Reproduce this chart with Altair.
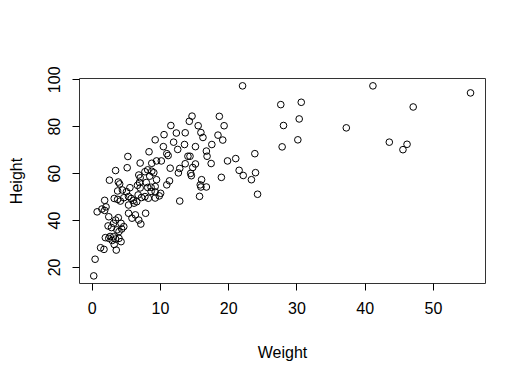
import altair as alt
import pandas as pd

weight = [22.1, 41.2, 55.5, 47.1, 37.3, 43.6, 46.2, 45.6, 27.7, 30.7,
          30.4, 28.1, 30.2, 27.9, 23.9, 21.1, 21.6, 22.2, 24.0, 23.4,
          24.3, 14.7, 14.3, 18.7, 15.6, 19.4, 11.6, 12.4, 13.7, 16.0,
          16.3, 18.5, 19.2, 10.6, 12.0, 13.6, 17.6, 15.2, 10.5, 12.6,
          16.8, 8.4, 11.0, 11.2, 14.1, 14.4, 16.9, 19.9, 17.5, 13.7,
          15.2, 14.8, 12.9, 11.5, 12.7, 14.5, 14.6, 19.0, 16.1, 15.9,
          16.0, 16.8, 15.8, 12.9, 11.4, 11.0, 9.3, 7.1, 8.8, 10.2,
          8.2, 7.8, 8.8, 9.1, 6.9, 7.1, 8.5, 9.5, 7.0, 8.0,
          8.2, 8.7, 9.3, 6.7, 7.1, 8.7, 9.3, 9.9, 10.1, 6.8,
          7.3, 7.8, 8.3, 9.3, 5.3, 9.5, 5.2, 3.5, 2.6, 3.9,
          4.1, 5.6, 3.8, 4.5, 5.1, 1.9, 3.3, 3.8, 4.2, 4.7,
          5.4, 5.8, 6.1, 5.4, 6.2, 6.6, 0.8, 1.5, 1.9, 2.1,
          6.9, 7.2, 5.4, 5.9, 6.4, 7.9, 2.5, 3.2, 3.5, 3.9,
          4.3, 4.7, 4.4, 2.4, 2.9, 3.7, 4.0, 2.0, 2.5, 2.7,
          3.2, 3.5, 3.0, 4.0, 4.3, 3.3, 3.6, 1.3, 1.8, 0.5,
          0.3]
height = [97.2, 97.2, 94.2, 88.2, 79.3, 73.2, 72.3, 70.0, 89.2, 90.2,
          83.1, 80.3, 74.2, 71.2, 68.3, 66.2, 61.2, 59.0, 60.2, 57.2,
          51.0, 84.3, 82.1, 84.2, 80.2, 80.2, 80.3, 77.1, 77.2, 77.3,
          75.2, 76.2, 74.1, 76.4, 73.2, 72.2, 72.2, 71.3, 71.3, 70.1,
          69.4, 69.1, 68.3, 67.5, 67.2, 67.2, 67.2, 65.2, 64.1, 64.0,
          63.9, 62.4, 62.0, 62.1, 60.1, 59.9, 58.9, 58.2, 57.2, 55.0,
          54.1, 54.1, 50.1, 48.1, 56.7, 55.0, 74.2, 64.3, 64.2, 65.2,
          61.4, 60.6, 60.8, 60.2, 59.2, 58.0, 58.7, 57.2, 56.0, 56.0,
          53.9, 54.0, 54.3, 54.8, 53.7, 52.2, 52.0, 50.3, 51.4, 50.7,
          49.6, 50.0, 49.3, 49.4, 67.1, 65.2, 62.3, 61.1, 57.0, 56.2,
          55.4, 53.8, 52.4, 52.8, 52.1, 48.4, 49.2, 48.8, 48.1, 49.5,
          50.0, 49.2, 48.4, 46.4, 47.2, 47.8, 43.5, 44.7, 44.1, 45.6,
          40.0, 38.3, 42.9, 40.8, 42.2, 42.9, 41.4, 38.6, 40.0, 41.0,
          38.6, 37.2, 36.2, 37.5, 36.8, 35.8, 35.1, 32.5, 32.2, 33.0,
          32.9, 31.9, 31.3, 32.2, 30.8, 29.6, 27.2, 28.2, 27.5, 23.3,
          16.2]

x_ticks = [0, 10, 20, 30, 40, 50]
y_ticks = [20, 40, 60, 80, 100]

df = pd.DataFrame({"Weight": weight, "Height": height})

FONT = "Liberation Sans"

chart = alt.Chart(df).mark_point(
    shape="circle", filled=False, stroke="black", strokeWidth=1, size=44, opacity=1
).encode(
    x=alt.X("Weight:Q",
            scale=alt.Scale(domain=[-1.86, 57.62], nice=False, zero=False),
            axis=alt.Axis(values=x_ticks, title="Weight", grid=False, domain=False,
                          tickSize=7, tickColor="black", tickWidth=1,
                          labelFont=FONT, labelFontSize=16, labelColor="black",
                          labelPadding=10, labelFlush=False,
                          titleFont=FONT, titleFontSize=16, titleFontWeight="normal",
                          titleColor="black", titleY=69, titleBaseline="middle")),
    y=alt.Y("Height:Q",
            scale=alt.Scale(domain=[13.17, 100.55], nice=False, zero=False),
            axis=alt.Axis(values=y_ticks, title="Height", grid=False, domain=False,
                          tickSize=7, tickColor="black", tickWidth=1,
                          labelFont=FONT, labelFontSize=16, labelColor="black",
                          labelAngle=270, labelAlign="center", labelBaseline="alphabetic",
                          labelPadding=13, labelFlush=False,
                          titleFont=FONT, titleFontSize=16, titleFontWeight="normal",
                          titleColor="black", titleAngle=270, titleX=-63,
                          titleBaseline="middle")),
).properties(
    width=406, height=205,
    background="white",
    autosize=alt.AutoSizeParams(type="none"),
    padding={"left": 71, "top": 70, "right": 30, "bottom": 80},
).configure_view(
    stroke="#333333", strokeWidth=1
)

chart.save("out.html", embed_options={"renderer": "svg", "actions": False})
